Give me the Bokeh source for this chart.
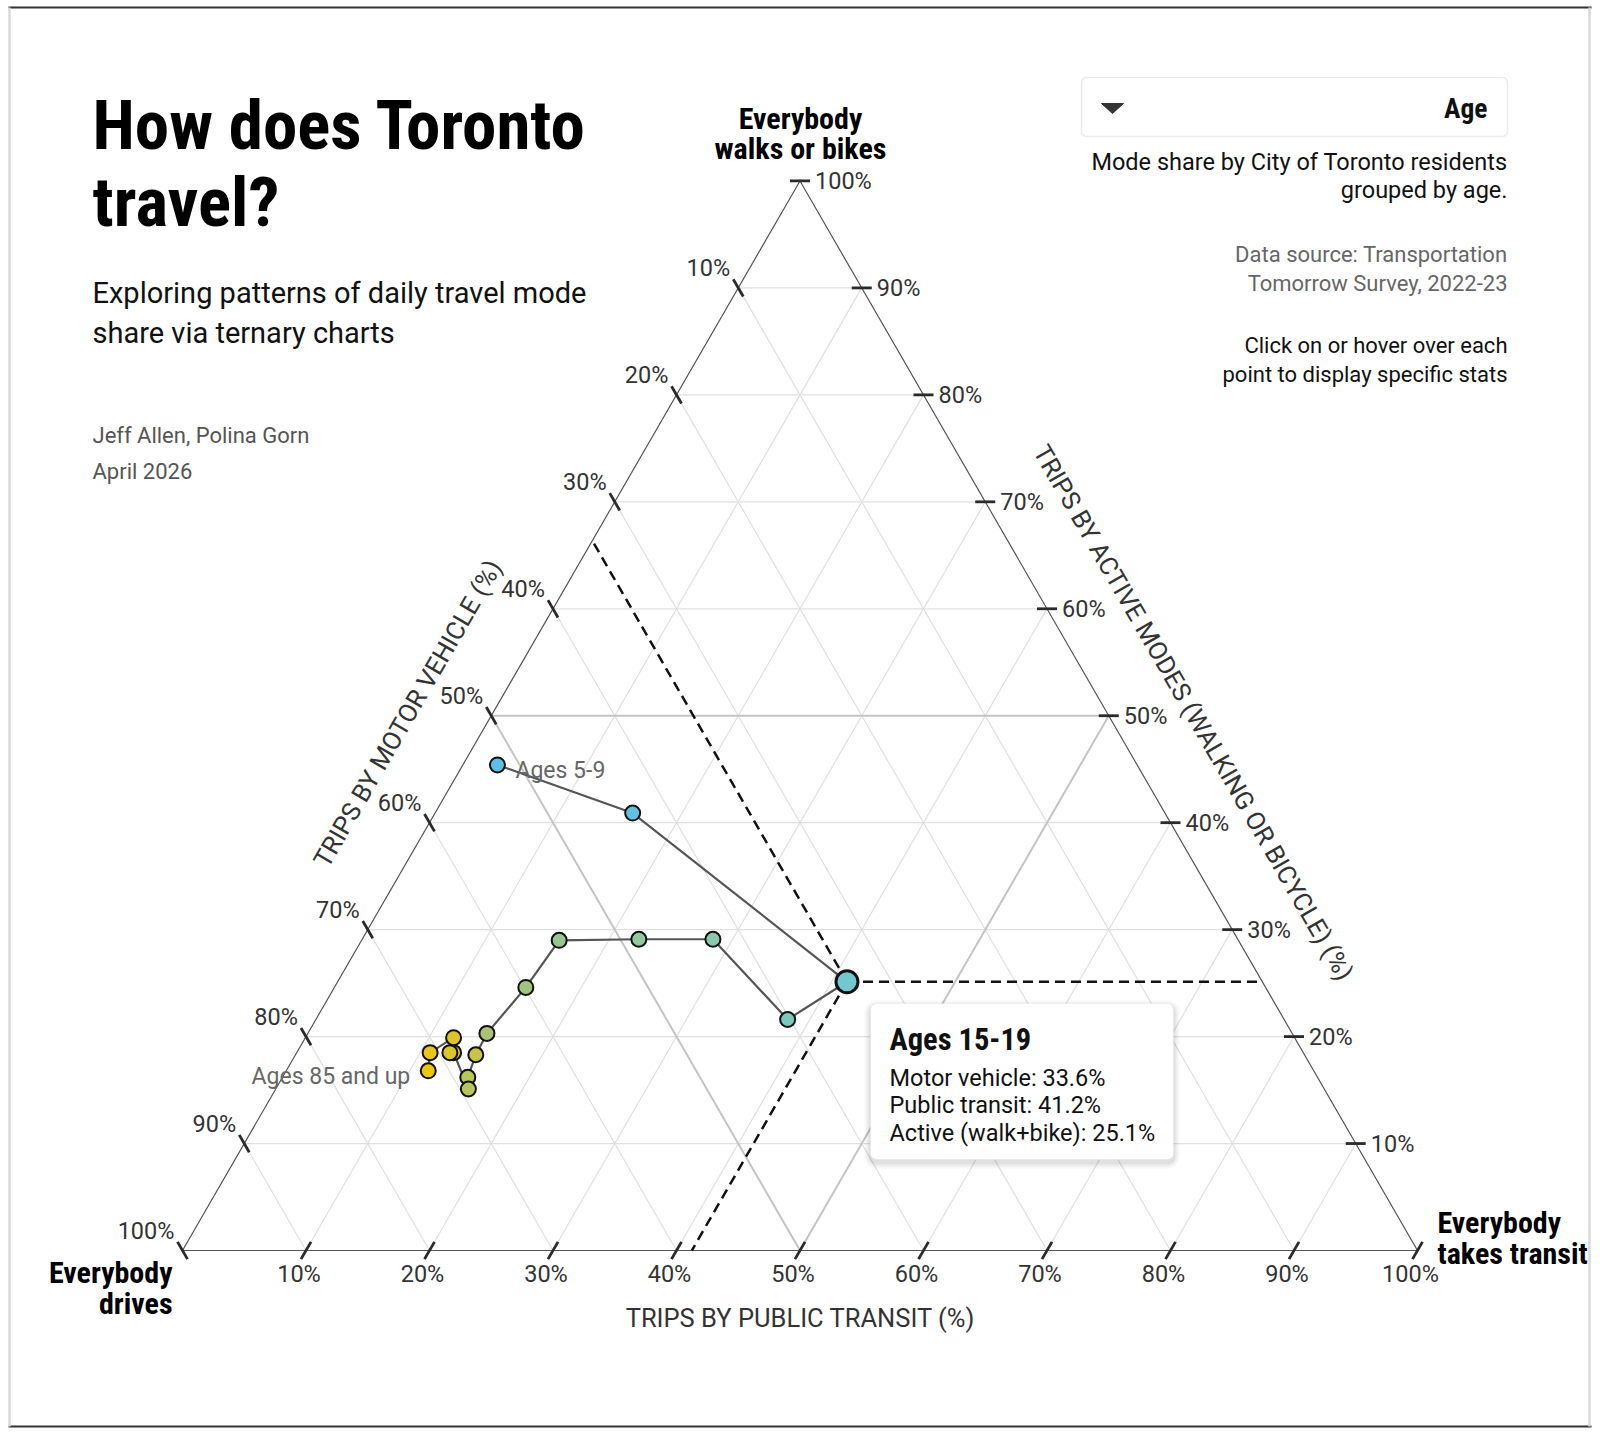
import math
from bokeh.plotting import figure
from bokeh.models import Range1d, BoxAnnotation, Label
from bokeh.core.properties import value
from bokeh.embed import file_html
from bokeh.resources import INLINE

# ---------------- data ----------------
age_groups = ["Ages 5-9", "Ages 10-14", "Ages 15-19", "Ages 20-24", "Ages 25-29",
              "Ages 30-34", "Ages 35-39", "Ages 40-44", "Ages 45-49", "Ages 50-54",
              "Ages 55-59", "Ages 60-64", "Ages 65-69", "Ages 70-74", "Ages 75-79",
              "Ages 80-84", "Ages 85 and up"]
motor_vehicle = [51.8, 43.1, 33.6, 40.2, 42.5, 48.5, 55.0, 59.9, 65.2, 67.1,
                 68.8, 69.3, 68.8, 69.1, 68.1, 70.7, 71.7]
public_transit = [2.8, 16.0, 41.2, 38.2, 28.4, 22.4, 16.0, 15.5, 14.5, 14.6,
                  15.0, 15.6, 12.7, 12.4, 12.0, 10.8, 11.5]
active_modes = [45.4, 40.9, 25.1, 21.6, 29.1, 29.1, 29.0, 24.6, 20.3, 18.3,
                16.2, 15.1, 18.5, 18.5, 19.9, 18.5, 16.8]
tick_values = [10, 20, 30, 40, 50, 60, 70, 80, 90, 100]
selected = "Ages 15-19"
labelled = ["Ages 5-9", "Ages 85 and up"]

point_colors = ["#5bbfe6", "#63c0e0", "#74c7cf", "#7ec7bf", "#8bc8ae", "#93c8a0",
                "#99c690", "#a3c47f", "#aac473", "#c6c54a", "#b7c55f", "#b9c55c",
                "#d9c42e", "#dcc42a", "#dfc427", "#eac417", "#ecc412"]

# ---------------- layout ----------------
W, H = 1596, 1432
COND = "Roboto Condensed, DejaVu Sans Condensed, Roboto"
BODY = "Roboto"

BLX, BLY = 182.0, 1250.0
SIDE = 1235.0
HGT = SIDE * math.sqrt(3) / 2


def tern(t, a):
    """transit share t, active share a (fractions) -> page coords"""
    return BLX + SIDE * (t + a / 2.0), BLY - HGT * a


p = figure(width=W, height=H, output_backend="svg", toolbar_location=None,
           x_range=Range1d(0, W), y_range=Range1d(H, 0),
           min_border=0, outline_line_color=None)
p.xaxis.visible = False
p.yaxis.visible = False
p.grid.visible = False
p.background_fill_color = "white"
p.border_fill_color = "white"


def txt(x, y, s, size, color="#111", font=BODY, style="normal", align="left",
        baseline="middle", angle=0.0):
    p.text(x=[x], y=[y], text=[s], text_font=value(font), text_font_size=f"{size}px",
           text_font_style=style, text_color=color, text_align=align,
           text_baseline=baseline, angle=angle)


# page frame
p.segment(x0=[8, 8], y0=[7, 1426], x1=[1591, 1591], y1=[7, 1426], line_color="#333", line_width=2)
p.segment(x0=[9, 1589], y0=[7, 7], x1=[9, 1589], y1=[1426, 1426], line_color="#d8d8d8", line_width=2.5)

# ---------------- grid ----------------
gx0, gy0, gx1, gy1 = [], [], [], []
mx0, my0, mx1, my1 = [], [], [], []
for v in tick_values[:-1]:
    f = v / 100.0
    segs = [(tern(0, f), tern(1 - f, f)),        # constant active
            (tern(f, 0), tern(f, 1 - f)),        # constant transit
            (tern(0, 1 - f), tern(1 - f, 0))]    # constant motor
    for (a0, a1) in segs:
        if v == 50:
            mx0.append(a0[0]); my0.append(a0[1]); mx1.append(a1[0]); my1.append(a1[1])
        else:
            gx0.append(a0[0]); gy0.append(a0[1]); gx1.append(a1[0]); gy1.append(a1[1])
p.segment(x0=gx0, y0=gy0, x1=gx1, y1=gy1, line_color="#e0e0e0", line_width=1.2)
p.segment(x0=mx0, y0=my0, x1=mx1, y1=my1, line_color="#c4c4c4", line_width=2)

# outline
vx = [tern(0, 0)[0], tern(1, 0)[0], tern(0, 1)[0], tern(0, 0)[0]]
vy = [tern(0, 0)[1], tern(1, 0)[1], tern(0, 1)[1], tern(0, 0)[1]]
p.line(vx, vy, line_color="#555", line_width=1.2)

# ---------------- ticks + labels ----------------
TL = 10.0
TFS = 23.5
tx0, ty0, tx1, ty1 = [], [], [], []
c60, s60 = 0.5, math.sqrt(3) / 2
for v in tick_values:
    f = v / 100.0
    # bottom: transit
    bx, by = tern(f, 0)
    tx0.append(bx - TL * c60); ty0.append(by + TL * s60); tx1.append(bx + TL * c60); ty1.append(by - TL * s60)
    txt(bx - 7, by + 23, f"{v}%", TFS, "#333", align="center")
    # left: motor vehicle
    lx, ly = tern(0, 1 - f)
    tx0.append(lx - TL * c60); ty0.append(ly - TL * s60); tx1.append(lx + TL * c60); ty1.append(ly + TL * s60)
    txt(lx - 8, ly - 20, f"{v}%", TFS, "#333", align="right")
    # right: active
    rx, ry = tern(1 - f, f)
    tx0.append(rx - TL); ty0.append(ry); tx1.append(rx + TL); ty1.append(ry)
    txt(rx + 15, ry, f"{v}%", TFS, "#333", align="left")
p.segment(x0=tx0, y0=ty0, x1=tx1, y1=ty1, line_color="#2a2a2a", line_width=2.8)

# axis titles
AFS = 25.5
txt(800, 1317, "TRIPS BY PUBLIC TRANSIT (%)", AFS, "#333", align="center")
txt(407, 713, "TRIPS BY MOTOR VEHICLE (%)", AFS, "#333", align="center", angle=math.pi / 3)
txt(1193, 712, "TRIPS BY ACTIVE MODES (WALKING OR BICYCLE) (%)", AFS, "#333", align="center",
    angle=-math.pi / 3)

# vertex labels
VFS = 30
txt(800, 117.5, "Everybody", VFS, "#000", font=COND, style="bold", align="center")
txt(800, 148, "walks or bikes", VFS, "#000", font=COND, style="bold", align="center")
txt(172, 1272, "Everybody", VFS, "#000", font=COND, style="bold", align="right")
txt(172, 1303, "drives", VFS, "#000", font=COND, style="bold", align="right")
txt(1437, 1222, "Everybody", VFS, "#000", font=COND, style="bold", align="left")
txt(1437, 1253, "takes transit", VFS, "#000", font=COND, style="bold", align="left")

# ---------------- data marks ----------------
xs, ys = [], []
for m, t, a in zip(motor_vehicle, public_transit, active_modes):
    s = m + t + a
    x, y = tern(t / s, a / s)
    xs.append(x); ys.append(y)

si = age_groups.index(selected)
sm = motor_vehicle[si] / 100.0
st = public_transit[si] / 100.0
sa = active_modes[si] / 100.0
ssum = sm + st + sa
sm, st, sa = sm / ssum, st / ssum, sa / ssum
px_, py_ = xs[si], ys[si]
e1 = tern(1 - sa, sa)
e2 = tern(0, 1 - sm)
e3 = tern(st, 0)
p.segment(x0=[px_] * 3, y0=[py_] * 3, x1=[e1[0], e2[0], e3[0]], y1=[e1[1], e2[1], e3[1]],
          line_color="#111", line_width=2.5, line_dash="10 6")

p.line(xs, ys, line_color="#555", line_width=2.2)
others = [i for i in range(len(xs)) if i != si]
p.scatter([xs[i] for i in others], [ys[i] for i in others], size=15,
          fill_color=[point_colors[i] for i in others], line_color="#111", line_width=2)
p.scatter([xs[si]], [ys[si]], size=22, fill_color=point_colors[si], line_color="#111", line_width=3)

for lab in labelled:
    i = age_groups.index(lab)
    if i == 0:
        txt(xs[i] + 18, ys[i] + 6, lab, 23, "#666", align="left")
    else:
        txt(xs[i] - 18, ys[i] + 6, lab, 23, "#666", align="right")

# ---------------- tooltip ----------------
for k, al in [(6, 0.03), (4, 0.04), (2, 0.05)]:
    p.add_layout(BoxAnnotation(left=870 - k, right=1173 + k, top=1003 - k + 3, bottom=1159 + k + 3,
                               border_radius=6 + k, fill_color="black", fill_alpha=al,
                               line_color=None, level="overlay"))
p.add_layout(BoxAnnotation(left=870, right=1173, top=1003, bottom=1159, border_radius=6,
                           fill_color="white", fill_alpha=1.0, line_color="#dddddd",
                           line_width=1.2, level="overlay"))
tip_lines = [f"Motor vehicle: {motor_vehicle[si]:.1f}%",
             f"Public transit: {public_transit[si]:.1f}%",
             f"Active (walk+bike): {active_modes[si]:.1f}%"]


def tip_txt(x, y, s, size, font=BODY, style="normal"):
    p.add_layout(Label(x=x, y=y, text=s, text_font=font, text_font_size=f"{size}px",
                       text_font_style=style, text_color="#111", text_baseline="middle",
                       level="overlay"))


tip_txt(889, 1039, selected, 30.5, font=COND, style="bold")
for j, s in enumerate(tip_lines):
    tip_txt(889, 1077 + 27.6 * j, s, 23.5)

# ---------------- header text ----------------
txt(92, 124.5, "How does Toronto", 69, "#000", font=COND, style="bold")
txt(92, 201.5, "travel?", 69, "#000", font=COND, style="bold")
txt(92, 292, "Exploring patterns of daily travel mode", 29, "#111")
txt(92, 332, "share via ternary charts", 29, "#111")
txt(92, 434.5, "Jeff Allen, Polina Gorn", 22, "#555")
txt(92, 471, "April 2026", 22, "#555")

# dropdown
p.add_layout(BoxAnnotation(left=1081, right=1507, top=77, bottom=136, border_radius=5,
                           fill_color="white", fill_alpha=1.0, line_color="#bbbbbb",
                           line_width=1.5, level="underlay"))
p.patch([1101, 1123, 1112], [103, 103, 113], fill_color="#333", line_color="#333")
txt(1487, 108, "Age", 27.5, "#111", font=COND, style="bold", align="right")

txt(1507, 161.5, "Mode share by City of Toronto residents", 23.5, "#111", align="right")
txt(1507, 189, "grouped by age.", 23.5, "#111", align="right")
txt(1507, 253.5, "Data source: Transportation", 22, "#666", align="right")
txt(1507, 283, "Tomorrow Survey, 2022-23", 22, "#666", align="right")
txt(1507, 344.5, "Click on or hover over each", 22, "#111", align="right")
txt(1507, 374, "point to display specific stats", 22, "#111", align="right")

open("out.html", "w").write(file_html(p, INLINE))
